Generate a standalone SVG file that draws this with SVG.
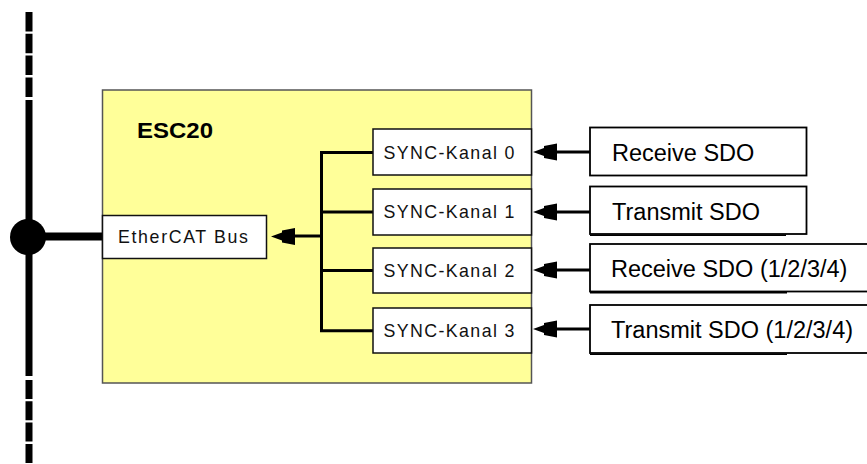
<svg xmlns="http://www.w3.org/2000/svg" width="867" height="464" viewBox="0 0 867 464">
<style>
.box{fill:#fff;stroke:#000;stroke-width:1.8}
.sync{fill:#fff;stroke:#111;stroke-width:1.5}
.yel{fill:#ffff99;stroke:#555;stroke-width:1.5}
.ln{stroke:#000;stroke-width:3;fill:none}
.bus{stroke:#000;stroke-width:7;fill:none}
.sh{stroke:#000;stroke-width:1.5}
.t{font-family:"Liberation Sans",Arial,sans-serif;font-size:23.5px;fill:#000}
.s{font-family:"Liberation Sans",Arial,sans-serif;font-size:17.8px;fill:#111}
.h{font-family:"Liberation Sans",Arial,sans-serif;font-size:22px;font-weight:bold;fill:#000}
</style>
<defs>
<path id="ah" d="M0,0 L11,-4 L11,-6 L24,-8.5 L24,8.5 L11,6 L11,4 Z" fill="#000"/>
</defs>
<g id="bus">
<line class="bus" x1="29" y1="12" x2="29" y2="99" stroke-dasharray="19.5 2.3"/>
<line class="bus" x1="29" y1="100" x2="29" y2="376"/>
<line class="bus" x1="29" y1="380" x2="29" y2="464" stroke-dasharray="19 2.3"/>
<circle cx="28" cy="237" r="18" fill="#000"/>
</g>
<g id="esc20">
<rect class="yel" x="102.5" y="90" width="429" height="293"/>
<text class="h" x="137" y="138" textLength="76" lengthAdjust="spacingAndGlyphs">ESC20</text>
</g>
<g id="connectors">
<line x1="30" y1="236.5" x2="102" y2="236.5" stroke="#000" stroke-width="8"/>
<polyline class="ln" points="373,152.5 321.5,152.5 321.5,330.7 373,330.7"/>
<line class="ln" x1="321.5" y1="212" x2="373" y2="212"/>
<line class="ln" x1="321.5" y1="270.5" x2="373" y2="270.5"/>
<line class="ln" x1="290" y1="236" x2="321.5" y2="236"/>
<use href="#ah" transform="translate(271,236.5)"/>
<line class="ln" x1="550" y1="152" x2="590" y2="152"/>
<use href="#ah" transform="translate(533,152)"/>
<line class="ln" x1="550" y1="212" x2="590" y2="212"/>
<use href="#ah" transform="translate(533,212)"/>
<line class="ln" x1="550" y1="270" x2="590" y2="270"/>
<use href="#ah" transform="translate(533,270)"/>
<line class="ln" x1="550" y1="329" x2="590" y2="329"/>
<use href="#ah" transform="translate(533,329)"/>
</g>
<g id="ethercat">
<rect class="sync" x="102.5" y="215.5" width="164" height="43"/>
<text class="s" x="118" y="243" textLength="130" lengthAdjust="spacing">EtherCAT Bus</text>
</g>
<g id="sync0">
<rect class="sync" x="373" y="129" width="158.5" height="46"/>
<text class="s" x="383.5" y="158.5" textLength="131" lengthAdjust="spacing">SYNC-Kanal 0</text>
</g>
<g id="sync1">
<rect class="sync" x="373" y="189" width="158.5" height="46"/>
<text class="s" x="383.5" y="218" textLength="131" lengthAdjust="spacing">SYNC-Kanal 1</text>
</g>
<g id="sync2">
<rect class="sync" x="373" y="248" width="158.5" height="45"/>
<text class="s" x="383.5" y="276.5" textLength="131" lengthAdjust="spacing">SYNC-Kanal 2</text>
</g>
<g id="sync3">
<rect class="sync" x="373" y="308" width="158.5" height="45"/>
<text class="s" x="383.5" y="336.5" textLength="131" lengthAdjust="spacing">SYNC-Kanal 3</text>
</g>
<g id="rxsdo">
<rect class="box" x="590" y="127.5" width="216.5" height="48"/>
<text class="t" x="612" y="161">Receive SDO</text>
</g>
<g id="txsdo">
<rect class="box" x="590" y="186.5" width="216.5" height="47.5"/>
<line class="sh" x1="590" y1="235.2" x2="786" y2="235.2"/>
<text class="t" x="612" y="220">Transmit SDO</text>
</g>
<g id="rxsdo4">
<rect class="box" x="590" y="244" width="290" height="47.5"/>
<line class="sh" x1="590" y1="292.7" x2="787" y2="292.7"/>
<text class="t" x="611" y="277">Receive SDO (1/2/3/4)</text>
</g>
<g id="txsdo4">
<rect class="box" x="590" y="305" width="290" height="48"/>
<line class="sh" x1="590" y1="354.2" x2="787" y2="354.2"/>
<text class="t" x="611" y="337.5">Transmit SDO (1/2/3/4)</text>
</g>
</svg>
